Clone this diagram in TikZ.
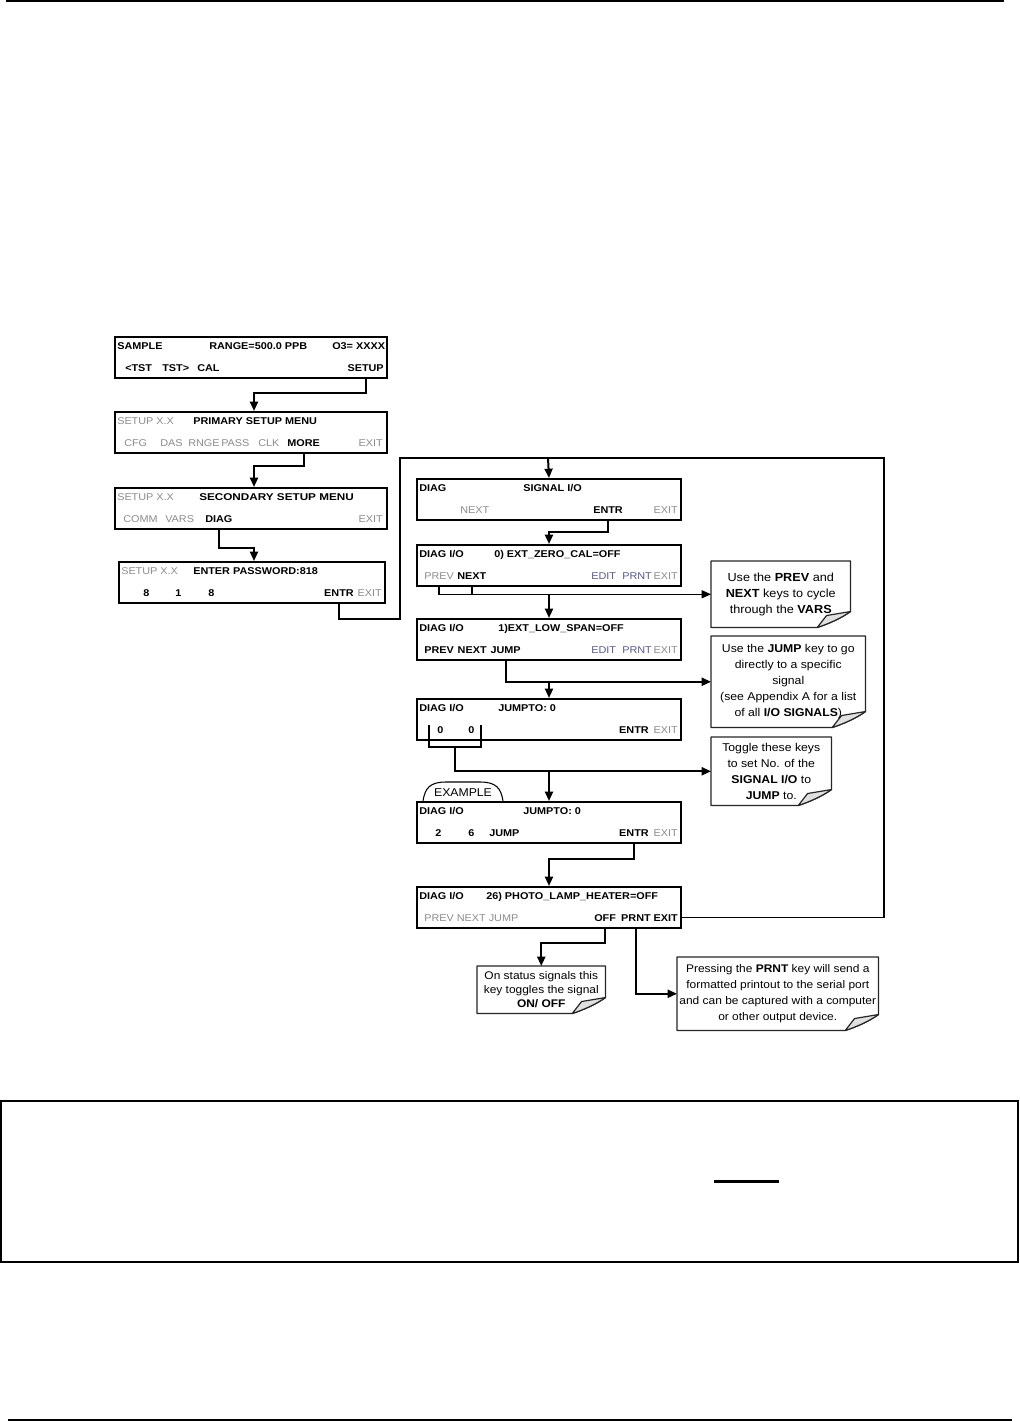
\documentclass[tikz,border=0pt]{standalone}
\usepackage{fontspec}
\setmainfont{Liberation Sans}
\newfontfamily\lcdfont{Liberation Sans}[FakeStretch=1.1]
\newfontfamily\notefont{Liberation Sans}[FakeStretch=1.08]
\usetikzlibrary{arrows.meta}
\definecolor{keygray}{RGB}{140,140,140}
\definecolor{keyslate}{RGB}{88,88,140}
\newcommand{\foldnote}[1]{%
  \draw[noteline] (#1.north west) -- (#1.north east) -- ([yshift=12pt]#1.south east)
    .. controls ([xshift=-7pt,yshift=7pt]#1.south east) and ([xshift=-16pt,yshift=3pt]#1.south east) .. ([xshift=-25pt]#1.south east) -- (#1.south west) -- cycle;
  \draw[noteline, fill=black!12] ([xshift=-25pt]#1.south east) .. controls ([xshift=-21pt,yshift=5pt]#1.south east) .. ([xshift=-18pt,yshift=9pt]#1.south east) -- ([yshift=12pt]#1.south east)
    .. controls ([xshift=-7pt,yshift=7pt]#1.south east) and ([xshift=-16pt,yshift=3pt]#1.south east) .. ([xshift=-25pt]#1.south east) -- cycle;
}
\begin{document}
\begin{tikzpicture}[x=0.75pt,y=-0.75pt,
  lcd/.style={draw=black, line width=1.5pt, minimum height=30.75pt, inner sep=0pt, anchor=north west},
  lcdA/.style={lcd, minimum width=204pt},
  lcdB/.style={lcd, minimum width=199.5pt},
  lcdC/.style={lcd, minimum width=198pt},
  bk/.style={inner sep=0pt, anchor=base west, font=\lcdfont\fontsize{7.4}{8}\selectfont\bfseries},
  gk/.style={inner sep=0pt, anchor=base west, text=keygray, font=\lcdfont\fontsize{7.4}{8}\selectfont},
  sk/.style={inner sep=0pt, anchor=base west, text=keyslate, font=\lcdfont\fontsize{7.4}{8}\selectfont},
  notebox/.style={inner sep=0pt, anchor=north west, draw=none},
  noteline/.style={draw=black!85, line width=0.9pt, line join=round},
  ntext/.style={inner sep=0pt, align=center, font=\notefont\fontsize{8.5}{12}\selectfont},
  flow/.style={line width=1.5pt, -{Triangle[length=7pt,width=6pt]}},
  flowplain/.style={line width=1.5pt},
  thinline/.style={line width=0.9pt},
  thinflow/.style={line width=0.9pt, -{Triangle[length=7pt,width=6pt]}},
  loopline/.style={line width=1.1pt},
  rule/.style={line width=1.1pt},
  tabline/.style={line width=0.8pt},
]
\fill[white] (0,0) rectangle (1020,1422);
\useasboundingbox (0,0) rectangle (1020,1422);

% page rules
\draw[rule] (6,1) -- (1004,1);
\draw[rule] (8,1420) -- (1012,1420);
\draw[rule] (1,1101) rectangle (1018,1262);
\draw[line width=2.4pt] (714,1181.5) -- (779,1181.5);

% ---------- left column ----------
\node[lcdA] (b1) at (114,336) {};
\node[bk] (b1a) at (117,349) {SAMPLE};
\node[bk] (b1b) at (209,349) {RANGE=500.0 PPB};
\node[bk] (b1c) at (332,349) {O3= XXXX};
\node[bk] (b1d) at (125,371) {<TST};
\node[bk] (b1e) at (162,371) {TST>};
\node[bk] (b1f) at (197,371) {CAL};
\node[bk, anchor=base east] (b1set) at (384,371) {SETUP};

\node[lcdA] (b2) at (114,411) {};
\node[gk] (b2a) at (117,424) {SETUP X.X};
\node[bk] (b2b) at (193,424) {PRIMARY SETUP MENU};
\node[gk] (b2c) at (124,446) {CFG};
\node[gk] (b2d) at (160,446) {DAS};
\node[gk] (b2e) at (188,446) {RNGE};
\node[gk] (b2f) at (221,446) {PASS};
\node[gk] (b2g) at (258,446) {CLK};
\node[bk] (b2more) at (287,446) {MORE};
\node[gk, anchor=base east] (b2x) at (383,446) {EXIT};

\node[lcdA] (b3) at (114,487) {};
\node[gk] (b3a) at (117,500) {SETUP X.X};
\node[bk] (b3b) at (199,500) {\scalebox{1.08}[1]{SECONDARY SETUP MENU}};
\node[gk] (b3c) at (123,522) {COMM};
\node[gk] (b3d) at (165,522) {VARS};
\node[bk] (b3diag) at (205,522) {DIAG};
\node[gk, anchor=base east] (b3x) at (383,522) {EXIT};

\node[lcdB] (b4) at (118,561) {};
\node[gk] (b4a) at (121,574) {SETUP X.X};
\node[bk] (b4b) at (193,574) {ENTER PASSWORD:818};
\node[bk] (b4c) at (143,596) {8};
\node[bk] (b4d) at (175,596) {1};
\node[bk] (b4e) at (208,596) {8};
\node[bk, anchor=base east] (b4entr) at (354,596) {ENTR};
\node[gk, anchor=base east] (b4x) at (382,596) {EXIT};

% ---------- right column ----------
\node[lcdC] (bA) at (416,478) {};
\node[bk] (bAa) at (419,491) {DIAG};
\node[bk] (bAb) at (523,491) {SIGNAL I/O};
\node[gk] (bAc) at (460,513) {NEXT};
\node[bk] (bAentr) at (593,513) {ENTR};
\node[gk, anchor=base east] (bAx) at (678,513) {EXIT};

\node[lcdC] (bB) at (416,544) {};
\node[bk] (bBa) at (419,557) {DIAG I/O};
\node[bk] (bBb) at (494,557) {0) EXT\_ZERO\_CAL=OFF};
\node[gk] (bBprev) at (424,579) {PREV};
\node[bk] (bBnext) at (457,579) {NEXT};
\node[sk] (bBc) at (591,579) {EDIT};
\node[sk] (bBd) at (622,579) {PRNT};
\node[gk, anchor=base east] (bBx) at (678,579) {EXIT};

\node[lcdC] (bC) at (416,618) {};
\node[bk] (bCa) at (419,631) {DIAG I/O};
\node[bk] (bCb) at (498,631) {1)EXT\_LOW\_SPAN=OFF};
\node[bk] (bCprev) at (424,653) {PREV};
\node[bk] (bCnext) at ([xshift=2.5pt]bCprev.base east) {NEXT};
\node[bk] (bCjump) at ([xshift=2.5pt]bCnext.base east) {JUMP};
\node[sk] (bCc) at (591,653) {EDIT};
\node[sk] (bCd) at (622,653) {PRNT};
\node[gk, anchor=base east] (bCx) at (678,653) {EXIT};

\node[lcdC] (bD) at (416,698) {};
\node[bk] (bDa) at (419,711) {DIAG I/O};
\node[bk] (bDb) at (498,711) {JUMPTO: 0};
\node[bk] (bDc) at (437,733) {0};
\node[bk] (bDd) at (468,733) {0};
\node[bk, anchor=base east] (bDentr) at (649,733) {ENTR};
\node[gk, anchor=base east] (bDx) at (678,733) {EXIT};

\draw[tabline, fill=white] (423,801) .. controls (425,788) and (430,782) .. (446,782) -- (480,782) .. controls (496,782) and (501,788) .. (503,801);
\node[inner sep=0pt, font=\notefont\fontsize{8.5}{10}\selectfont] (extab) at (463,792.5) {EXAMPLE};

\node[lcdC] (bE) at (416,801) {};
\node[bk] (bEa) at (419,814) {DIAG I/O};
\node[bk] (bEb) at (523,814) {JUMPTO: 0};
\node[bk] (bEc) at (435,836) {2};
\node[bk] (bEd) at (468,836) {6};
\node[bk] (bEe) at (489,836) {JUMP};
\node[bk, anchor=base east] (bEentr) at (649,836) {ENTR};
\node[gk, anchor=base east] (bEx) at (678,836) {EXIT};

\node[lcdC] (bF) at (416,886) {};
\node[bk] (bFa) at (419,899) {DIAG I/O};
\node[bk] (bFb) at (486,899) {26) PHOTO\_LAMP\_HEATER=OFF};
\node[gk] (bFc) at (424,921) {PREV NEXT JUMP};
\node[bk] (bFoff) at (594,921) {OFF};
\node[bk, anchor=base east] (bFprnt) at (651,921) {PRNT};
\node[bk, anchor=base east] (bFexit) at (678,921) {EXIT};

% ---------- notes ----------
\node[notebox, minimum width=104.25pt, minimum height=49.5pt] (n1) at (711,561) {};
\node[notebox, minimum width=115.5pt, minimum height=68.25pt] (n2) at (711,636) {};
\node[notebox, minimum width=90pt, minimum height=51pt] (n3) at (711,737) {};
\node[notebox, minimum width=96pt, minimum height=35.25pt] (n4) at (477,966) {};
\node[notebox, minimum width=150.75pt, minimum height=54.75pt] (n5) at (677,957) {};
\foldnote{n1}
\foldnote{n2}
\foldnote{n3}
\foldnote{n4}
\foldnote{n5}
\node[ntext, font=\notefont\fontsize{8.8}{12}\selectfont] (n1t) at (n1.center) {Use the \textbf{PREV} and\\\textbf{NEXT} keys to cycle\\through the \textbf{VARS}};
\node[ntext] (n2t) at (n2.center) {Use the \textbf{JUMP} key to go\\directly to a specific\\signal\\(see Appendix A for a list\\of all \textbf{I/O SIGNALS})};
\node[ntext] (n3t) at (n3.center) {Toggle these keys\\to set No. of the\\\textbf{SIGNAL I/O} to\\\textbf{JUMP} to.};
\node[ntext, font=\notefont\fontsize{8.3}{10.5}\selectfont] (n4t) at (n4.center) {On status signals this\\key toggles the signal\\\textbf{ON/ OFF}};
\node[ntext, font=\notefont\fontsize{8.3}{12}\selectfont] (n5t) at (n5.center) {Pressing the \textbf{PRNT} key will send a\\formatted printout to the serial port\\and can be captured with a computer\\or other output device.};

% ---------- connectors ----------
\draw[flow] (b1set.center |- b1.south) -- ++(0,14) -| ([xshift=2.25pt]b2.north);
\draw[flow] (b2more.center |- b2.south) -- ++(0,12) -| ([xshift=2.25pt]b3.north);
\draw[flow] (b3diag.center |- b3.south) -- ++(0,18) -| ([xshift=1.5pt]b4.north);

\coordinate (loopL) at (400,458);
\coordinate (loopR) at (884,458);
\coordinate (loopT) at (548,458);
\draw[loopline] (b4entr.center |- b4.south) -- ++(0,15) -| (loopL) -- (loopR) |- (bFexit.center -| bF.east);
\draw[flow] (loopT) -- (bA.north);

\draw[flow] (bAentr.center |- bA.south) -- ++(0,11) -| (bB.north);
\draw[thinflow] (bBprev.center |- bB.south) |- (n1.west);
\draw[flowplain] (bBnext.center |- bB.south) -- (bBnext.center |- n1.west);
\draw[flow] (bC.north |- n1.west) -- (bC.north);

\draw[flow] (bCjump.center |- bC.south) |- (n2.west);
\draw[flow] (bD.north |- n2.west) -- (bD.north);

\draw[thinline] (429,725) -- (429,747) -- (481,747) -- (481,725);
\coordinate (brk) at (455,747);
\draw[flow] (brk) |- (n3.west);
\draw[flow] (bE.north |- n3.west) -- (bE.north);

\draw[flow] (bEentr.center |- bE.south) -- ++(0,15) -| (bF.north);
\draw[flow] (bFoff.center |- bF.south) -- ++(0,14) -| (n4.north);
\draw[flow] (bFprnt.center |- bF.south) |- (n5.west);
\end{tikzpicture}
\end{document}
